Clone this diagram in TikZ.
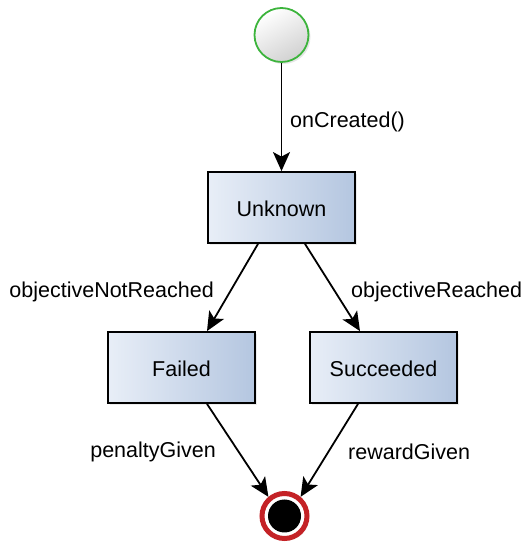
\documentclass[tikz,border=0pt]{standalone}
\usepackage{fontspec}
\setmainfont{Liberation Sans}
\usetikzlibrary{arrows.meta,calc,shadows}
\definecolor{boxL}{HTML}{E8EEF7}
\definecolor{boxR}{HTML}{B4C6E0}
\definecolor{initG}{HTML}{3CB43C}
\definecolor{finR}{HTML}{C42226}
\tikzset{
  lbl/.style={font=\fontsize{21.5}{25}\selectfont, inner sep=0pt},
  statebox/.style={draw=black, line width=1.8pt, minimum width=147pt, minimum height=71pt,
    left color=boxL, right color=boxR, font=\fontsize{21.5}{25}\selectfont,
    text height=19pt, text depth=0pt,
    drop shadow={opacity=0.15, shadow xshift=2pt, shadow yshift=-2pt}},
  initstate/.style={circle, draw=initG, line width=1.8pt, minimum size=54pt, inner sep=0pt,
    shading=axis, top color=white, bottom color=black!18, shading angle=30,
    drop shadow={opacity=0.2, shadow xshift=2pt, shadow yshift=-2pt}},
  finalstate/.style={circle, draw=finR, line width=5pt, minimum size=45pt, inner sep=0pt, fill=white,
    drop shadow={opacity=0.2, shadow xshift=2pt, shadow yshift=-2pt}},
  trans/.style={draw=black, line width=1.8pt, -{Stealth[length=19pt,width=17pt,inset=4.5pt]}}
}
\begin{document}
\begin{tikzpicture}[x=1pt,y=1pt]
\useasboundingbox (0,0) rectangle (526,546);
\node[initstate] (init) at (281.5,511) {};
\node[statebox] (unk) at (281.5,338.5) {Unknown};
\node[statebox] (fail) at (181.5,178.5) {Failed};
\node[statebox] (succ) at (383.5,178.5) {Succeeded};
\node[finalstate] (fin) at (284.5,30) {};
\fill[black] (fin.center) circle (16.5pt);

\draw[trans] (init.south) -- (unk.north);
\draw[trans] ([xshift=-23.5pt]unk.south) -- ([xshift=25.5pt]fail.north);
\draw[trans] ([xshift=23.5pt]unk.south) -- ([xshift=-23.5pt]succ.north);
\draw[trans] ([xshift=25.5pt]fail.south) -- (fin.130);
\draw[trans] ([xshift=-25.5pt]succ.south) -- (fin.50);

\node[lbl, anchor=west] (l1) at (290,424) {onCreated()};
\node[lbl, anchor=east] (l2) at (214,254) {objectiveNotReached};
\node[lbl, anchor=west] (l3) at (351,254) {objectiveReached};
\node[lbl, anchor=east] (l4) at (216,94) {penaltyGiven};
\node[lbl, anchor=west] (l5) at (348,94) {rewardGiven};
\end{tikzpicture}
\end{document}
